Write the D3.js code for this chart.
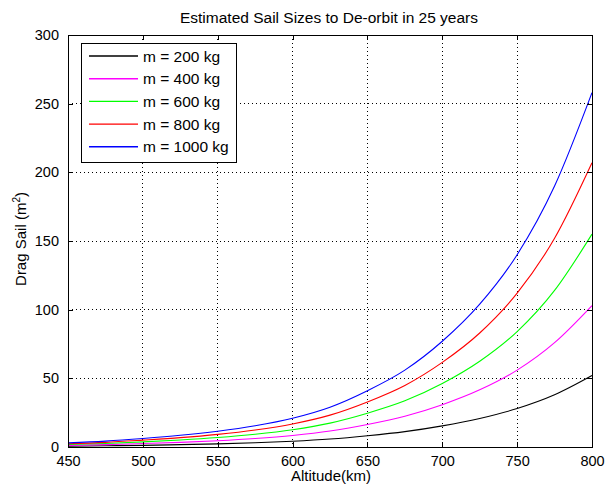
<!DOCTYPE html>
<html>
<head>
<meta charset="utf-8">
<script src="https://cdn.jsdelivr.net/npm/d3@7"></script>
<style>
  html, body { margin: 0; padding: 0; background: #fff; }
  svg { display: block; font-family: "Liberation Sans", Arial, Helvetica, sans-serif; }
</style>
</head>
<body>
<svg id="chart" width="605" height="490"></svg>
<script>
// Altitude samples (km)
const altitudes = [450, 475, 500, 525, 550, 575, 600, 625, 650, 675, 700, 725, 750, 775, 800];

// Required drag sail area (m^2) for each satellite mass
const sail200  = [0.6, 0.9, 1.2, 1.7, 2.3, 3.1, 4.2, 5.8, 8.2, 11.2, 15.4, 20.8, 28, 38, 52];
const sail400  = [1.2, 1.7, 2.5, 3.4, 4.6, 6.2, 8.4, 11.6, 16.4, 22.4, 30.8, 41.6, 56, 76, 103];
const sail600  = [1.8, 2.6, 3.7, 5.1, 6.9, 9.3, 12.6, 17.4, 24.6, 33.6, 46.2, 62.4, 84, 114, 155];
const sail800  = [2.4, 3.4, 5.0, 6.8, 9.2, 12.4, 16.8, 23.2, 32.8, 44.8, 61.6, 83, 112, 152, 207];
const sail1000 = [3.0, 4.3, 6.2, 8.5, 11.5, 15.5, 21, 29, 41, 56, 77, 104, 140, 190, 258];

const seriesNames = ["m = 200 kg", "m = 400 kg", "m = 600 kg", "m = 800 kg", "m = 1000 kg"];
const seriesColors = ["#000000", "#ff00ff", "#00ff00", "#ff0000", "#0000ff"];
const seriesValues = [sail200, sail400, sail600, sail800, sail1000];

const xTicks = [450, 500, 550, 600, 650, 700, 750, 800];
const yTicks = [0, 50, 100, 150, 200, 250, 300];

const titleText = "Estimated Sail Sizes to De-orbit in 25 years";
const xLabelText = "Altitude(km)";

const svg = d3.select("#chart");
const plotL = 68, plotR = 592, plotT = 35, plotB = 447;

const x = d3.scaleLinear().domain([450, 800]).range([plotL, plotR]);
const y = d3.scaleLinear().domain([0, 300]).range([plotB, plotT]);

// Dotted grid
const grid = svg.append("g").attr("stroke", "#000").attr("stroke-width", 1)
  .attr("stroke-dasharray", "1,3").attr("shape-rendering", "crispEdges");
xTicks.slice(1, -1).forEach(t => {
  grid.append("line").attr("x1", x(t)).attr("x2", x(t)).attr("y1", plotT).attr("y2", plotB);
});
yTicks.slice(1, -1).forEach(t => {
  grid.append("line").attr("x1", plotL).attr("x2", plotR).attr("y1", y(t)).attr("y2", y(t));
});

// Curves
const line = d3.line().x((d, i) => x(altitudes[i])).y(d => y(d)).curve(d3.curveMonotoneX);
seriesValues.forEach((vals, k) => {
  svg.append("path").datum(vals)
    .attr("d", line)
    .attr("fill", "none")
    .attr("stroke", seriesColors[k])
    .attr("stroke-width", 1.1);
});

// Axes (ticks pointing inward, mirrored on top and right)
const tickLen = 5;
const xAxisB = d3.axisBottom(x).tickValues(xTicks).tickSizeInner(-tickLen).tickSizeOuter(0).tickPadding(9);
const xAxisT = d3.axisTop(x).tickValues(xTicks).tickSizeInner(-tickLen).tickSizeOuter(0).tickFormat("");
const yAxisL = d3.axisLeft(y).tickValues(yTicks).tickSizeInner(-tickLen).tickSizeOuter(0).tickPadding(9);
const yAxisR = d3.axisRight(y).tickValues(yTicks).tickSizeInner(-tickLen).tickSizeOuter(0).tickFormat("");

function styleAxis(g) {
  g.attr("shape-rendering", "crispEdges");
  g.select(".domain").attr("stroke", "#000");
  g.selectAll(".tick line").attr("stroke", "#000");
  g.selectAll(".tick text").attr("fill", "#000").attr("font-size", 14.5)
    .attr("font-family", "'Liberation Sans', Arial, sans-serif");
}
svg.append("g").attr("transform", `translate(0,${plotB})`).call(xAxisB).call(styleAxis);
svg.append("g").attr("transform", `translate(0,${plotT})`).call(xAxisT).call(styleAxis);
svg.append("g").attr("transform", `translate(${plotL},0)`).call(yAxisL).call(styleAxis);
svg.append("g").attr("transform", `translate(${plotR},0)`).call(yAxisR).call(styleAxis);

// Title and axis labels
svg.append("text").attr("x", 329).attr("y", 23)
  .attr("text-anchor", "middle").attr("font-size", 15.5).text(titleText);
svg.append("text").attr("x", 331).attr("y", 481)
  .attr("text-anchor", "middle").attr("font-size", 15).text(xLabelText);
const yl = svg.append("text")
  .attr("transform", `translate(26,239) rotate(-90)`)
  .attr("text-anchor", "middle").attr("font-size", 15);
yl.append("tspan").text("Drag Sail (m");
yl.append("tspan").attr("font-size", 10).attr("dy", -6).text("2");
yl.append("tspan").attr("dy", 6).text(")");

// Legend
const lg = svg.append("g");
lg.append("rect").attr("x", 81.5).attr("y", 43.5).attr("width", 155).attr("height", 119)
  .attr("fill", "#fff").attr("stroke", "#000").attr("stroke-width", 1);
seriesNames.forEach((name, k) => {
  const cy = 56 + k * 22.7;
  lg.append("path")
    .attr("d", d3.line()([[89, cy], [138, cy]]))
    .attr("stroke", seriesColors[k]).attr("stroke-width", 1.4).attr("fill", "none");
  lg.append("text").attr("x", 143).attr("y", cy + 5.5).attr("font-size", 15.5).text(name);
});
</script>
</body>
</html>
